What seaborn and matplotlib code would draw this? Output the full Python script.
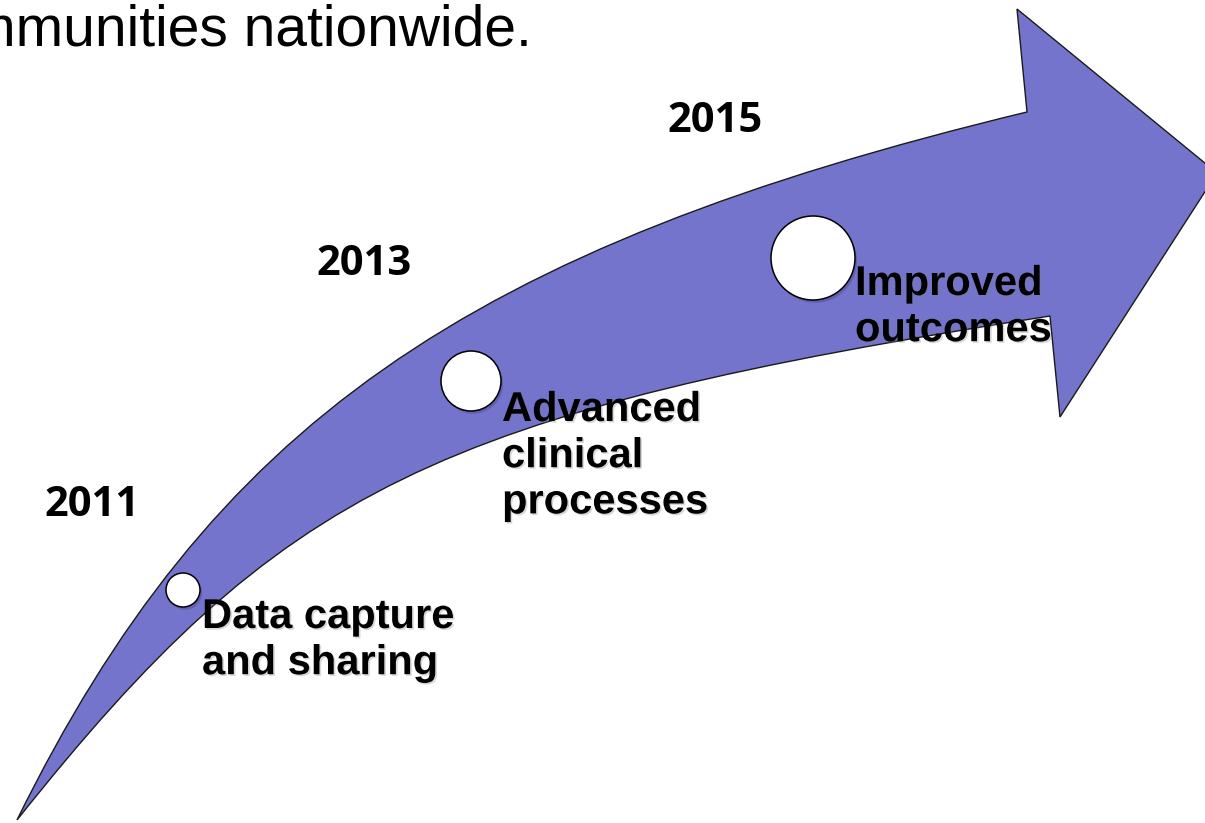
import seaborn as sns
import matplotlib.pyplot as plt
import matplotlib.patheffects as pe
from matplotlib.path import Path
from matplotlib.patches import PathPatch
import pandas as pd

# timeline milestones
years = ['2011', '2013', '2015']
year_x = [92, 364, 715]
year_y = [516, 275, 132]

milestones = ['Data capture\nand sharing', 'Advanced\nclinical\nprocesses', 'Improved\noutcomes']
circle_x = [183, 471, 813]
circle_y = [590, 381, 258]
circle_r = [17, 30, 42]
label_x = [202, 502, 855]
label_y = [597, 390, 264]

# arrow outline (bezier control points, pixel space)
upper_x = [17, 211, 464, 1027]
upper_y = [820, 426, 248, 112]
head_x = [1017, 1217, 1060, 1050]
head_y = [9, 173, 417, 316]
lower_x = [1050, 435, 281, 17]
lower_y = [316, 412, 488, 820]

sns.set_style('white')
plt.rcParams['font.family'] = ['Liberation Sans', 'DejaVu Sans']

fig = plt.figure(figsize=(12.05, 8.23), dpi=100)
ax = fig.add_axes([0, 0, 1, 1])
ax.set_xlim(0, 1205)
ax.set_ylim(823, 0)
ax.axis('off')

# build the curved arrow
verts = [(upper_x[0], upper_y[0])]
codes = [Path.MOVETO]
for x, y in zip(upper_x[1:], upper_y[1:]):
    verts.append((x, y))
    codes.append(Path.CURVE4)
for x, y in zip(head_x, head_y):
    verts.append((x, y))
    codes.append(Path.LINETO)
for x, y in zip(lower_x[1:], lower_y[1:]):
    verts.append((x, y))
    codes.append(Path.CURVE4)
verts.append((upper_x[0], upper_y[0]))
codes.append(Path.CLOSEPOLY)
arrow = PathPatch(Path(verts, codes), facecolor='#7474CC', edgecolor='#1a1a1a', lw=1.0, zorder=1)
ax.add_patch(arrow)

# milestone circles, sizes in points^2 (1 px = 0.72 pt)
df = pd.DataFrame({'x': circle_x, 'y': circle_y, 'r': circle_r})
sizes = [(2 * r * 0.72) ** 2 for r in circle_r]
sns.scatterplot(data=df, x='x', y='y', s=sizes, color='white', edgecolor='black',
                linewidth=1.1, ax=ax, zorder=3, legend=False,
                path_effects=[pe.SimplePatchShadow(offset=(1.5, -2), shadow_rgbFace='#333366', alpha=0.3),
                              pe.Normal()])

shadow = [pe.SimplePatchShadow(offset=(1.2, -1.2), shadow_rgbFace='gray', alpha=0.3), pe.Normal()]
for lab, x, y in zip(milestones, label_x, label_y):
    ax.text(x, y, lab, fontsize=30, fontweight='bold', ha='left', va='top',
            color='black', zorder=4, path_effects=shadow)

for yr, x, y in zip(years, year_x, year_y):
    ax.text(x, y, yr, fontsize=30, fontweight='bold', family=['Open Sans', 'DejaVu Sans'],
            ha='center', va='baseline', color='black', zorder=4)

ax.text(532, 45, 'communities nationwide.', fontsize=41, ha='right', va='baseline', color='black')

fig.savefig('out.png', dpi=100)
